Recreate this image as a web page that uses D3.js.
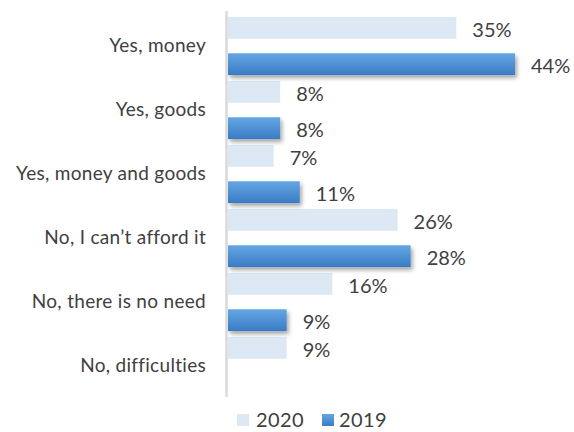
<!DOCTYPE html>
<html><head><meta charset="utf-8">
<script src="https://cdn.jsdelivr.net/npm/d3@7/dist/d3.min.js"></script>
<style>body{margin:0;background:#fff}svg{display:block}text{font-family:Lato,"Open Sans",sans-serif;fill:#404040}</style>
</head><body><svg id="c" width="574" height="432"></svg>
<script>
const categories = ["Yes, money","Yes, goods","Yes, money and goods","No, I can\u2019t afford it","No, there is no need","No, difficulties"];
const values2020 = [35, 8, 7, 26, 16, 9];
const values2019 = [44, 8, 11, 28, 9, null];
const seriesNames = ["2020","2019"];

const svg = d3.select("#c");
const defs = svg.append("defs");
const g = defs.append("linearGradient").attr("id","blueGrad").attr("x1",0).attr("y1",0).attr("x2",0).attr("y2",1);
g.append("stop").attr("offset","0%").attr("stop-color","#64a6e3");
g.append("stop").attr("offset","100%").attr("stop-color","#3a7cc4");
const f = defs.append("filter").attr("id","shadow").attr("x","-5%").attr("y","-30%").attr("width","115%").attr("height","180%");
f.append("feDropShadow").attr("dx",2).attr("dy",3).attr("stdDeviation",2).attr("flood-color","#000").attr("flood-opacity",0.35);

const x0 = 228;
const x = d3.scaleLinear().domain([0, 44]).range([x0, 515]);
const y = d3.scaleBand().domain(categories).range([14, 398]).paddingInner(0).paddingOuter(0);
const sub = d3.scaleBand().domain(seriesNames).range([0, y.bandwidth()]).paddingInner(0.4).paddingOuter(0.08);

const rows = categories.map((c,i)=>({c, v:[values2020[i], values2019[i]]}));

// 2020 bars
svg.append("g").selectAll("rect").data(rows).join("rect")
  .attr("x", x0).attr("y", d=>y(d.c)+sub("2020"))
  .attr("width", d=>x(d.v[0])-x0).attr("height", sub.bandwidth())
  .attr("fill","#dde8f5");
// 2019 bars
svg.append("g").selectAll("rect").data(rows.filter(d=>d.v[1]!=null)).join("rect")
  .attr("x", x0).attr("y", d=>y(d.c)+sub("2019"))
  .attr("width", d=>x(d.v[1])-x0).attr("height", sub.bandwidth())
  .attr("fill","url(#blueGrad)").attr("filter","url(#shadow)");

// axis line
svg.append("line").attr("x1",226.5).attr("x2",226.5).attr("y1",11).attr("y2",397)
  .attr("stroke","#d9d9d9").attr("stroke-width",2.5);

// value labels
const lab = svg.append("g").attr("font-size",20);
rows.forEach(d=>{
  lab.append("text").attr("x", x(d.v[0])+16).attr("y", y(d.c)+sub("2020")+sub.bandwidth()/2+2).attr("dy","0.36em").text(d.v[0]+"%");
  if(d.v[1]!=null) lab.append("text").attr("x", x(d.v[1])+16).attr("y", y(d.c)+sub("2019")+sub.bandwidth()/2+2).attr("dy","0.36em").text(d.v[1]+"%");
});

// category labels
svg.append("g").selectAll("text").data(categories).join("text")
  .attr("x",206).attr("y", d=>y(d)+y.bandwidth()/2).attr("dy","0.3em")
  .attr("text-anchor","end").attr("font-size",19).attr("letter-spacing",0.3).text(d=>d);

// legend
const leg = svg.append("g");
leg.append("rect").attr("x",237).attr("y",414).attr("width",12).attr("height",12).attr("fill","#dde8f5");
leg.append("text").attr("x",256).attr("y",420).attr("dy","0.36em").attr("font-size",20).attr("letter-spacing",0.4).text(seriesNames[0]);
leg.append("rect").attr("x",322).attr("y",414).attr("width",12).attr("height",12).attr("fill","url(#blueGrad)");
leg.append("text").attr("x",339).attr("y",420).attr("dy","0.36em").attr("font-size",20).attr("letter-spacing",0.4).text(seriesNames[1]);
</script></body></html>
